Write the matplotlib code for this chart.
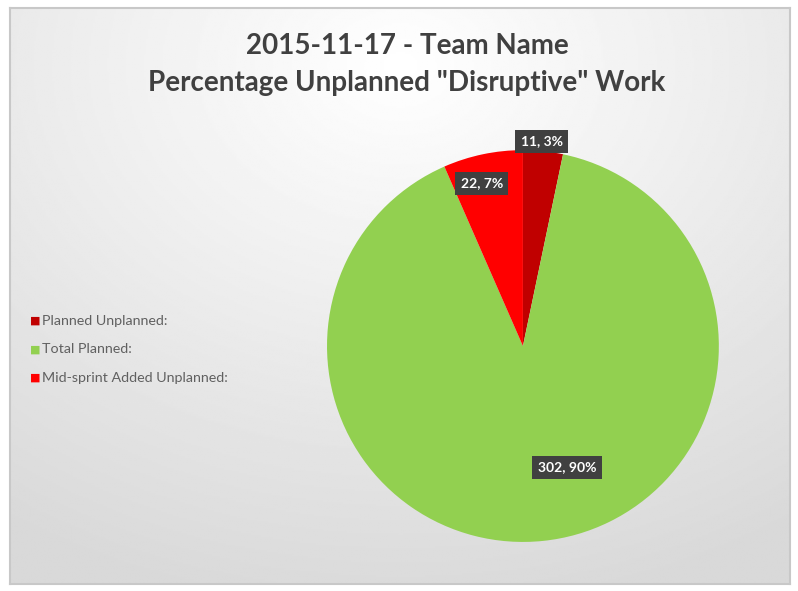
import matplotlib.pyplot as plt
import numpy as np

categories = ["Planned Unplanned:", "Total Planned:", "Mid-sprint Added Unplanned:"]
values = [11, 302, 22]
percents = [3, 90, 7]
colors = ["#C00000", "#92D050", "#FF0000"]

fig = plt.figure(figsize=(7.98, 5.91), dpi=100)
fig.patch.set_facecolor("white")

# background with a soft radial gradient
bg = fig.add_axes([0.012, 0.012, 0.978, 0.975])
yy, xx = np.mgrid[0:1:300j, 0:1:400j]
r = np.sqrt((xx - 0.5) ** 2 * 1.1 + (yy - 0.1) ** 2)
shade = 1.0 - 0.15 * np.clip(r / 0.95, 0, 1)
bg.imshow(shade, cmap="gray", vmin=0, vmax=1, extent=[0, 1, 0, 1], aspect="auto")
bg.set_xticks([])
bg.set_yticks([])
for s in bg.spines.values():
    s.set_color("#c8c8c8")
    s.set_linewidth(1.5)

fig.text(0.51, 0.923, "2015-11-17 - Team Name", ha="center", va="center",
         fontsize=20, fontweight="bold", color="#404040", family="Lato")
fig.text(0.51, 0.859, "Percentage Unplanned \"Disruptive\" Work", ha="center", va="center",
         fontsize=20, fontweight="bold", color="#404040", family="Lato")

ax = fig.add_axes([0.4098, 0.083, 0.491, 0.663])
wedges, _ = ax.pie(values, colors=colors, startangle=90, counterclock=False,
                   wedgeprops=dict(linewidth=0))
ax.set_xlim(-1, 1)
ax.set_ylim(-1, 1)
ax.set_aspect("equal")

label_pos = [(0.097, 1.046), (0.224, -0.62), (-0.21, 0.83)]
for (x, y), v, p in zip(label_pos, values, percents):
    ax.text(x, y, f"{v}, {p}%", ha="center", va="center", fontsize=10,
            fontweight="bold", color="white", family="Lato",
            bbox=dict(boxstyle="square,pad=0.4", fc="#404040", ec="none"),
            clip_on=False)

for i, (c, lab) in enumerate(zip(colors, categories)):
    y = 0.457 - i * 0.048
    fig.text(0.037, y, "\u25a0", color=c, fontsize=8, va="center", ha="left")
    fig.text(0.053, y, lab, color="#606060", fontsize=10.3, va="center", ha="left",
             family="Lato")

fig.savefig("out.png", dpi=100)
